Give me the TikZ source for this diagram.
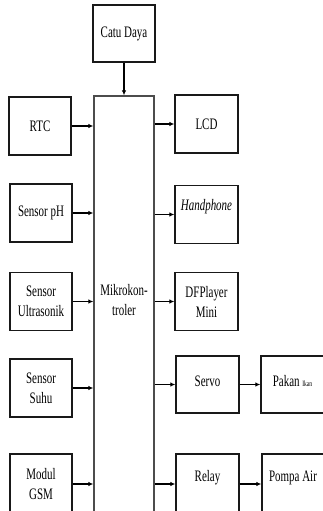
\documentclass[tikz,border=0pt]{standalone}
\usepackage{fontspec}
\setmainfont{Liberation Serif}[FakeStretch=0.685]
\usetikzlibrary{arrows.meta}
\newcommand\boxfont{\fontsize{16}{20}\selectfont}
\newcommand\liftup[2]{\raisebox{#1}[\height][\depth]{#2}}
\begin{document}
\begin{tikzpicture}[x=1pt,y=-1pt,
  box/.style={draw=black!90, line width=1.3pt, minimum width=62pt, minimum height=58pt, inner sep=1pt, align=center, font=\boxfont},
  arr/.style={-{Latex[length=5pt,width=4.5pt]}, line width=1.3pt}]
\useasboundingbox (0,0) rectangle (322,511);
% central box
\node[draw=black!70, line width=1.3pt, minimum width=60pt, minimum height=444pt, inner sep=0pt] (mcu) at (124,318) {};
\node[font=\boxfont, align=center] (mcutext) at (124,300) {Mikrokon-\\troler};
% top
\node[box, minimum height=57pt] (catu) at (124,33.5) {Catu Daya};
% left column
\node[box] (rtc) at (40,126) {RTC};
\node[box] (ph) at (41,213) {Sensor pH};
\node[box] (ultra) at (41,301.5) {Sensor\\Ultrasonik};
\node[box] (suhu) at (41,388) {Sensor\\Suhu};
\node[box, minimum height=60pt] (gsm) at (41,484) {Modul\\GSM};
% right column
\node[box, minimum width=63pt] (lcd) at (206.5,124) {LCD};
\node[box, minimum width=63pt] (hp) at (206.5,214.5) {\liftup{8pt}{\itshape Handphone}};
\node[box, minimum width=63pt] (df) at (206.5,301.5) {DFPlayer\\Mini};
\node[box, minimum width=63pt, minimum height=57pt] (servo) at (207.5,384.5) {\liftup{3pt}{Servo}};
\node[box, minimum width=63pt, minimum height=60pt] (relay) at (207.5,484) {\liftup{6pt}{Relay}};
% far right
\node[box, minimum width=63pt, minimum height=57pt] (pakan) at (292.5,384.5) {\liftup{3pt}{Pakan {\fontsize{8}{9}\selectfont Ikan}}};
\node[box, minimum width=62pt, minimum height=60pt] (pompa) at (293,484) {\liftup{6pt}{Pompa Air}};
% connectors
\draw[arr] (catu.south) -- (mcu.north);
\foreach \n in {rtc,ph,ultra,suhu,gsm}
  \draw[arr] (\n.east) -- (\n.east -| mcu.west);
\foreach \n in {lcd,hp,df,servo,relay}
  \draw[arr] (\n.west -| mcu.east) -- (\n.west);
\draw[arr] (servo.east) -- (pakan.west);
\draw[arr] (relay.east) -- (pompa.west);
\end{tikzpicture}
\end{document}
